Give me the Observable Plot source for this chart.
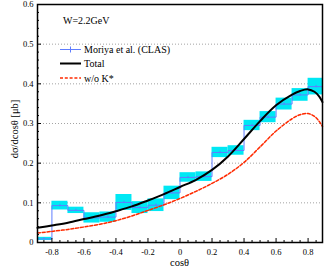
<!DOCTYPE html>
<html><head><meta charset="utf-8">
<script src="https://cdn.jsdelivr.net/npm/d3@7"></script>
<script src="https://cdn.jsdelivr.net/npm/@observablehq/plot@0.6"></script>
<style>body{margin:0;background:#fff} #chart{width:327px;height:280px}</style>
</head><body><div id="chart"></div>
<script>
// Moriya et al. (CLAS) data, bins of cos(theta)
const binLo = [-0.9,-0.8,-0.7,-0.6,-0.5,-0.4,-0.3,-0.2,-0.1,0.0,0.1,0.2,0.3,0.4,0.5,0.6,0.7,0.8];
const binHi = [-0.8,-0.7,-0.6,-0.5,-0.4,-0.3,-0.2,-0.1,0.0,0.1,0.2,0.3,0.4,0.5,0.6,0.7,0.8,0.9];
const xsec = [0.009,0.093,0.081,0.062,0.064,0.101,0.088,0.094,0.125,0.164,0.166,0.227,0.232,0.295,0.316,0.349,0.372,0.393];
const xsecErr = [0.004,0.011,0.008,0.013,0.013,0.020,0.015,0.016,0.017,0.012,0.012,0.013,0.012,0.013,0.014,0.015,0.016,0.021];
const statErr = [0.003,0.003,0.003,0.003,0.003,0.003,0.003,0.003,0.003,0.003,0.003,0.003,0.003,0.003,0.003,0.003,0.003,0.003];

// Model curves
const curveX   = [-0.89,-0.8,-0.7,-0.6,-0.5,-0.4,-0.3,-0.2,-0.1,0.0,0.1,0.2,0.3,0.4,0.5,0.6,0.7,0.75,0.8,0.84,0.87,0.89];
const totalY   = [0.037,0.043,0.050,0.059,0.068,0.079,0.091,0.106,0.122,0.140,0.158,0.183,0.217,0.261,0.306,0.346,0.373,0.382,0.386,0.380,0.368,0.354];
const noKstarY = [0.024,0.028,0.033,0.039,0.046,0.055,0.067,0.081,0.095,0.111,0.129,0.149,0.172,0.202,0.241,0.281,0.312,0.322,0.325,0.318,0.305,0.292];

const xTicks = [-0.8,-0.6,-0.4,-0.2,0,0.2,0.4,0.6,0.8];
const xMinor = [-0.85,-0.75,-0.7,-0.65,-0.55,-0.5,-0.45,-0.35,-0.3,-0.25,-0.15,-0.1,-0.05,0.05,0.1,0.15,0.25,0.3,0.35,0.45,0.5,0.55,0.65,0.7,0.75,0.85];
const yTicks = [0,0.1,0.2,0.3,0.4,0.5,0.6];
const yMinor = [0.02,0.04,0.06,0.08,0.12,0.14,0.16,0.18,0.22,0.24,0.26,0.28,0.32,0.34,0.36,0.38,0.42,0.44,0.46,0.48,0.52,0.54,0.56,0.58];
const yGrid = [0.1,0.2,0.3,0.4,0.5];

const bins = binLo.map((lo,i)=>({lo, hi: binHi[i], c: (lo+binHi[i])/2, v: xsec[i], e: xsecErr[i], s: statErr[i]}));
const stepPts = bins.map(b=>({x:b.lo, y:b.v})).concat([{x: binHi[binHi.length-1], y: xsec[xsec.length-1]}]);
const total = curveX.map((x,i)=>({x, y: totalY[i]}));
const noK = curveX.map((x,i)=>({x, y: noKstarY[i]}));

const fmt = d => d === 0 ? "0" : String(+d.toFixed(1));
const font = "'Liberation Serif', 'Times New Roman', serif";

const plot = Plot.plot({
  width: 327, height: 280,
  marginLeft: 37, marginRight: 5, marginTop: 4, marginBottom: 38,
  style: {fontFamily: font, fontSize: "8.5px", color: "#000", background: "#fff"},
  x: {domain: [-0.89, 0.89]},
  y: {domain: [0, 0.6]},
  marks: [
    Plot.gridY(yGrid, {stroke: "#999", strokeOpacity: 0.9, strokeDasharray: "1,2"}),
    Plot.rect(bins, {x1: "lo", x2: "hi", y1: d=>d.v-d.e, y2: d=>d.v+d.e, fill: "#00e8f4", clip: true}),
    Plot.line(stepPts, {x: "x", y: "y", curve: "step-after", stroke: "#5f7dff", strokeWidth: 1, clip: true}),
    Plot.ruleX(bins, {x: "c", y1: d=>d.v-d.s, y2: d=>d.v+d.s, stroke: "#5f7dff", strokeWidth: 1}),
    Plot.line(noK, {x: "x", y: "y", curve: "catmull-rom", stroke: "#ff2a00", strokeWidth: 1.5, strokeDasharray: "3,1.8"}),
    Plot.line(total, {x: "x", y: "y", curve: "catmull-rom", stroke: "#000", strokeWidth: 2}),
    Plot.axisX(xTicks, {tickSize: 0, tickPadding: 6, tickFormat: fmt, label: null}),
    Plot.axisX(xTicks, {tickSize: -4, text: null, label: null}),
    Plot.axisX(xMinor, {tickSize: -2, text: null, label: null}),
    Plot.axisY(yTicks, {tickSize: 0, tickPadding: 4, tickFormat: fmt, label: null}),
    Plot.axisY(yTicks, {tickSize: -4, text: null, label: null}),
    Plot.axisY(yMinor, {tickSize: -2, text: null, label: null}),
    Plot.frame({stroke: "#000", strokeWidth: 1.5})
  ]
});
document.getElementById("chart").appendChild(plot);

const svg = d3.select(plot);
const g = svg.append("g").attr("font-family", font).attr("fill", "#000").attr("text-anchor", "start");
g.append("text").attr("x", 63).attr("y", 24).attr("font-size", "10px").attr("text-anchor", "start").text("W=2.2GeV");
g.append("text").attr("x", 179.5).attr("y", 266).attr("font-size", "10.5px").attr("text-anchor", "middle").text("cosθ");
g.append("text").attr("transform", "translate(18,129) rotate(-90)").attr("font-size", "10.5px").attr("text-anchor", "middle").text("dσ/dcosθ [μb]");

const legend = [
  {label: "Moriya et al. (CLAS)", y: 49.5, stroke: "#5f7dff", w: 1, dash: null, tick: true},
  {label: "Total", y: 63.5, stroke: "#000", w: 2, dash: null, tick: false},
  {label: "w/o K*", y: 78, stroke: "#ff2a00", w: 1.5, dash: "3,1.8", tick: false}
];
legend.forEach(l => {
  g.append("line").attr("x1", 60).attr("x2", 81).attr("y1", l.y).attr("y2", l.y)
    .attr("stroke", l.stroke).attr("stroke-width", l.w).attr("stroke-dasharray", l.dash);
  if (l.tick) g.append("line").attr("x1", 70.5).attr("x2", 70.5).attr("y1", l.y-3).attr("y2", l.y+3)
    .attr("stroke", l.stroke).attr("stroke-width", 1);
  g.append("text").attr("x", 84).attr("y", l.y+3.5).attr("font-size", "10px").attr("text-anchor", "start").text(l.label);
});
</script>
</body></html>
